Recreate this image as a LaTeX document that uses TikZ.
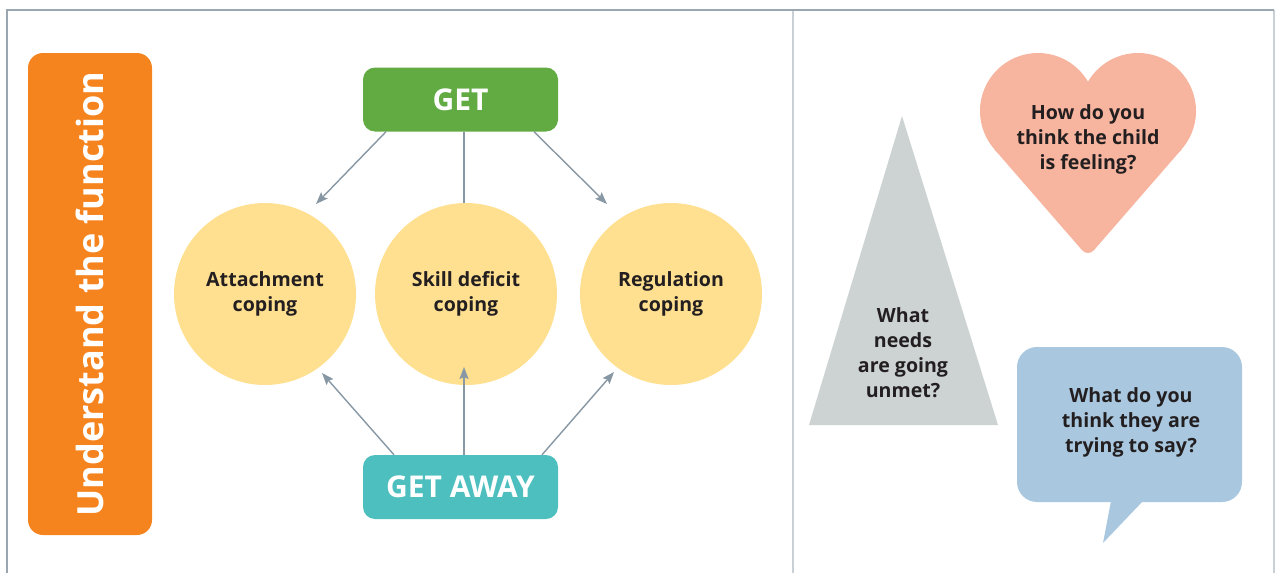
\documentclass[tikz,border=0pt]{standalone}
\usepackage{fontspec}
\setmainfont{Open Sans}
\usetikzlibrary{arrows.meta,calc}
\definecolor{framec}{HTML}{9AA6B0}
\definecolor{dividerc}{HTML}{C9D0D6}
\definecolor{orangec}{HTML}{F5841F}
\definecolor{greenc}{HTML}{62AB43}
\definecolor{tealc}{HTML}{4DBFBF}
\definecolor{yellowc}{HTML}{FFE091}
\definecolor{arrowc}{HTML}{8797A3}
\definecolor{triC}{HTML}{CDD3D3}
\definecolor{heartc}{HTML}{F7B49E}
\definecolor{bubblec}{HTML}{A9C8E0}
\definecolor{textc}{HTML}{231F20}
\tikzset{
  bigbox/.style={rounded corners=12pt, minimum width=195pt, minimum height=64pt, inner sep=0pt,
    text=white, font=\fontsize{30}{34}\selectfont\bfseries},
  circ/.style={circle, fill=yellowc, minimum size=182pt, inner sep=0pt, align=center,
    text=textc, font=\fontsize{19.6}{25}\selectfont\bfseries},
  qtext/.style={align=center, text=textc, inner sep=0pt, font=\fontsize{19.6}{25}\selectfont\bfseries},
  conn/.style={draw=arrowc, line width=1.4pt},
  arr/.style={conn, -{Stealth[length=12pt,width=9pt,inset=2pt]}},
}
\begin{document}
\begin{tikzpicture}[x=1pt,y=-1pt]
\useasboundingbox (0,0) rectangle (1275,573);
% frame
\draw[dividerc, line width=1.5pt] (1274,10) -- (1274,573);
\draw[dividerc, line width=1.5pt] (793,10) -- (793,573);
\draw[framec, line width=2pt] (7,573) -- (7,10) -- (1274,10);

% title bar
\node[fill=orangec, rounded corners=15pt, rotate=90, minimum width=482pt, minimum height=124pt,
  inner sep=0pt, text=white, font=\fontsize{36}{40}\selectfont\bfseries] (title) at (90,294) {Understand the function};

% circles
\node[circ] (att) at (265,294) {Attachment\\coping};
\node[circ] (skill) at (466,294) {Skill deficit\\coping};
\node[circ] (reg) at (671,294) {Regulation\\coping};

% boxes
\node[bigbox, fill=greenc] (get) at (460.5,99.5) {GET};
\node[bigbox, fill=tealc] (away) at (460.5,487) {GET AWAY};

% connector ends
\coordinate (e1) at (316,204);
\coordinate (e3) at (607,204);
\coordinate (e4) at (322,373);
\coordinate (e5) at (464,367);
\coordinate (e6) at (614,372);

\draw[arr] ($(get.south)+(-74.5,0)$) -- (e1);
\draw[conn] ($(get.south)+(3.5,0)$) -- ($(skill.north)+(-2,0)$);
\draw[arr] ($(get.south)+(73.5,0)$) -- (e3);
\draw[arr] ($(away.north)+(-66.5,0)$) -- (e4);
\draw[arr] ($(away.north)+(3.5,0)$) -- (e5);
\draw[arr] ($(away.north)+(81.5,0)$) -- (e6);

% triangle
\fill[triC] (902,116) -- (998,425) -- (809,425) -- cycle;
\node[qtext] (needs) at (903,353) {What\\needs\\are going\\unmet?};

% heart
\fill[heartc] (1038,111) circle[radius=58pt];
\fill[heartc] (1138,111) circle[radius=58pt];
\fill[heartc] (1038,111) -- (994.2,149.1) [rounded corners=9pt] -- (1088,257) [sharp corners] -- (1181.8,149.1) -- (1138,111) -- cycle;
\node[qtext] (feel) at (1088,139) {How do you\\think the child\\is feeling?};

% speech bubble
\fill[bubblec, rounded corners=20pt] (1017,347) rectangle (1242,502);
\fill[bubblec] (1111,501) -- (1103,543) -- (1143,501) -- cycle;
\node[qtext] (say) at (1131,422) {What do you\\think they are\\trying to say?};
\end{tikzpicture}
\end{document}
